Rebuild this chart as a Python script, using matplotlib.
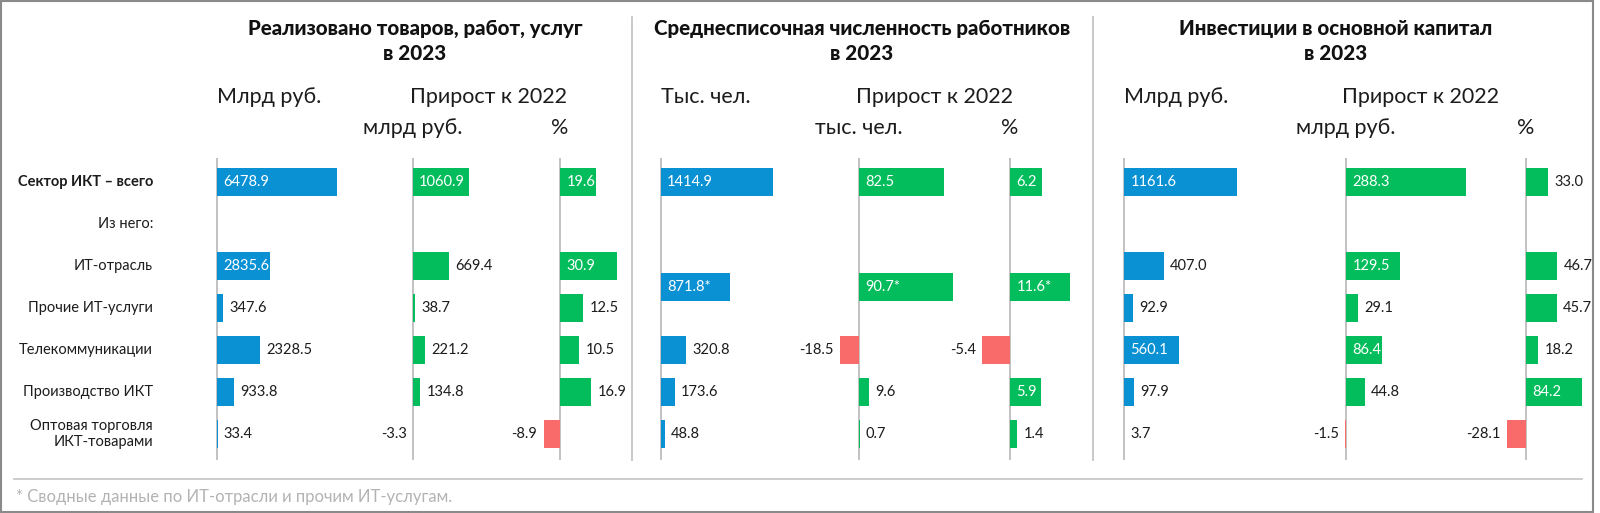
import numpy as np
import matplotlib.pyplot as plt
from matplotlib import transforms
from matplotlib.lines import Line2D
from matplotlib.patches import Rectangle

plt.rcParams['font.family'] = ['Lato', 'DejaVu Sans']

nan = np.nan

# строки таблицы
categories = ["Сектор ИКТ – всего", "Из него:", "ИТ-отрасль", "Прочие ИТ-услуги",
              "Телекоммуникации", "Производство ИКТ", "Оптовая торговля\nИКТ-товарами"]

# реализовано товаров, работ, услуг (млрд руб.)
revenue = [6478.9, nan, 2835.6, 347.6, 2328.5, 933.8, 33.4]
revenue_growth = [1060.9, nan, 669.4, 38.7, 221.2, 134.8, -3.3]
revenue_growth_pct = [19.6, nan, 30.9, 12.5, 10.5, 16.9, -8.9]

# среднесписочная численность (тыс. чел.), ИТ-отрасль и прочие ИТ-услуги сводно
staff = [1414.9, nan, nan, nan, 320.8, 173.6, 48.8]
staff_growth = [82.5, nan, nan, nan, -18.5, 9.6, 0.7]
staff_growth_pct = [6.2, nan, nan, nan, -5.4, 5.9, 1.4]
staff_it_total = 871.8
staff_it_growth = 90.7
staff_it_growth_pct = 11.6

# инвестиции в основной капитал (млрд руб.)
invest = [1161.6, nan, 407.0, 92.9, 560.1, 97.9, 3.7]
invest_growth = [288.3, nan, 129.5, 29.1, 86.4, 44.8, -1.5]
invest_growth_pct = [33.0, nan, 46.7, 45.7, 18.2, 84.2, -28.1]

W, H = 1600, 513
BLUE = "#0A91D4"
GREEN = "#03BD5C"
RED = "#F96B6B"
DARK = "#1c1c1c"
GRID = "#bdbdbd"

fig = plt.figure(figsize=(W / 100, H / 100), dpi=100)

TOP, BOTTOM = 158, 460   # пиксели, вертикальные оси колонок
ROW0, STEP = 182, 42     # центр первой строки и шаг строк
ylim_top = -(ROW0 - TOP) / STEP
ylim_bot = ylim_top + (BOTTOM - TOP) / STEP


def column(x0, upp, values, color, extra=None):
    """одна колонка баров: x0 - положение оси в пикселях, upp - единиц на пиксель"""
    left, right = 80, 140
    ax = fig.add_axes([(x0 - left) / W, 1 - BOTTOM / H, (left + right) / W, (BOTTOM - TOP) / H])
    ax.set_xlim(-left * upp, right * upp)
    ax.set_ylim(ylim_bot, ylim_top)
    ax.axis("off")
    ax.patch.set_alpha(0)
    ax.axvline(0, color=GRID, lw=1.3, zorder=1)

    items = [(i, v, f"{v:.1f}") for i, v in enumerate(values) if not np.isnan(v)]
    if extra is not None:
        items.append((2.5, extra, f"{extra:.1f}*"))
    for pos, v, lab in items:
        c = color if v >= 0 else RED
        ax.barh(pos, v, height=0.67, color=c, zorder=2)
        bar_px = abs(v) / upp
        if v > 0 and bar_px >= 8.6 * len(lab):
            ax.annotate(lab, (0, pos), xytext=(4.5, 0), textcoords="offset points",
                        ha="left", va="center", color="white", fontsize=10.5)
        elif v >= 0:
            ax.annotate(lab, (v, pos), xytext=(4.5, 0), textcoords="offset points",
                        ha="left", va="center", color=DARK, fontsize=10.5)
        else:
            ax.annotate(lab, (v, pos), xytext=(-4.5, 0), textcoords="offset points",
                        ha="right", va="center", color=DARK, fontsize=10.5)
    return ax


ax1 = column(217, 54.0, revenue, BLUE)
column(413, 18.8, revenue_growth, GREEN)
column(560, 0.54, revenue_growth_pct, GREEN)
column(661, 12.6, staff, BLUE, staff_it_total)
column(859, 0.97, staff_growth, GREEN, staff_it_growth)
column(1010, 0.192, staff_growth_pct, GREEN, staff_it_growth_pct)
column(1124, 10.26, invest, BLUE)
column(1346, 2.41, invest_growth, GREEN)
column(1526, 1.495, invest_growth_pct, GREEN)

# подписи строк
tr = transforms.blended_transform_factory(fig.transFigure, ax1.transData)
for i, name in enumerate(categories):
    fig.text(153 / W, i, name, transform=tr, ha="right", va="center",
             fontsize=10.5, color=DARK, fontweight="bold" if i == 0 else "normal",
             linespacing=1.15)

# заголовки блоков
titles = ["Реализовано товаров, работ, услуг", "Среднесписочная численность работников",
          "Инвестиции в основной капитал"]
title_x = [415, 862, 1336]
growth_x = [488, 934, 1421]
units = ["Млрд руб.", "Тыс. чел.", "Млрд руб."]
sub_units = ["млрд руб.", "тыс. чел.", "млрд руб."]
axes_x = [(217, 413, 560), (661, 859, 1010), (1124, 1346, 1526)]
for t, tx, gx, u, su, (a, b, c) in zip(titles, title_x, growth_x, units, sub_units, axes_x):
    fig.text(tx / W, 1 - 28 / H, t, ha="center", va="center", fontsize=14.8,
             fontweight="black", color="#111111")
    fig.text(tx / W, 1 - 54 / H, "в 2023", ha="center", va="center", fontsize=14.8,
             fontweight="black", color="#111111")
    fig.text(a / W, 1 - 97 / H, u, ha="left", va="center", fontsize=15.5, color=DARK)
    fig.text(gx / W, 1 - 97 / H, "Прирост к 2022", ha="center", va="center",
             fontsize=15.5, color=DARK)
    fig.text(b / W, 1 - 128 / H, su, ha="center", va="center", fontsize=15.5, color=DARK)
    fig.text(c / W, 1 - 128 / H, "%", ha="center", va="center", fontsize=15.5, color=DARK)

# разделители и рамка
for x in (632, 1093):
    fig.add_artist(Line2D([x / W, x / W], [1 - 17 / H, 1 - 460 / H], color="#c4c4c4", lw=1.3))
fig.add_artist(Line2D([14 / W, 1582 / W], [1 - 479 / H, 1 - 479 / H], color="#c8c8c8", lw=1.3))
fig.add_artist(Rectangle((1 / W, 1 / H), 1592 / W, 511 / H, transform=fig.transFigure,
                         fill=False, edgecolor="#8a8a8a", lw=1.5))

fig.text(16 / W, 1 - 497 / H, "* Сводные данные по ИТ-отрасли и прочим ИТ-услугам.",
         ha="left", va="center", fontsize=12, color="#b3b3b3")

fig.savefig("out.png", dpi=100)
